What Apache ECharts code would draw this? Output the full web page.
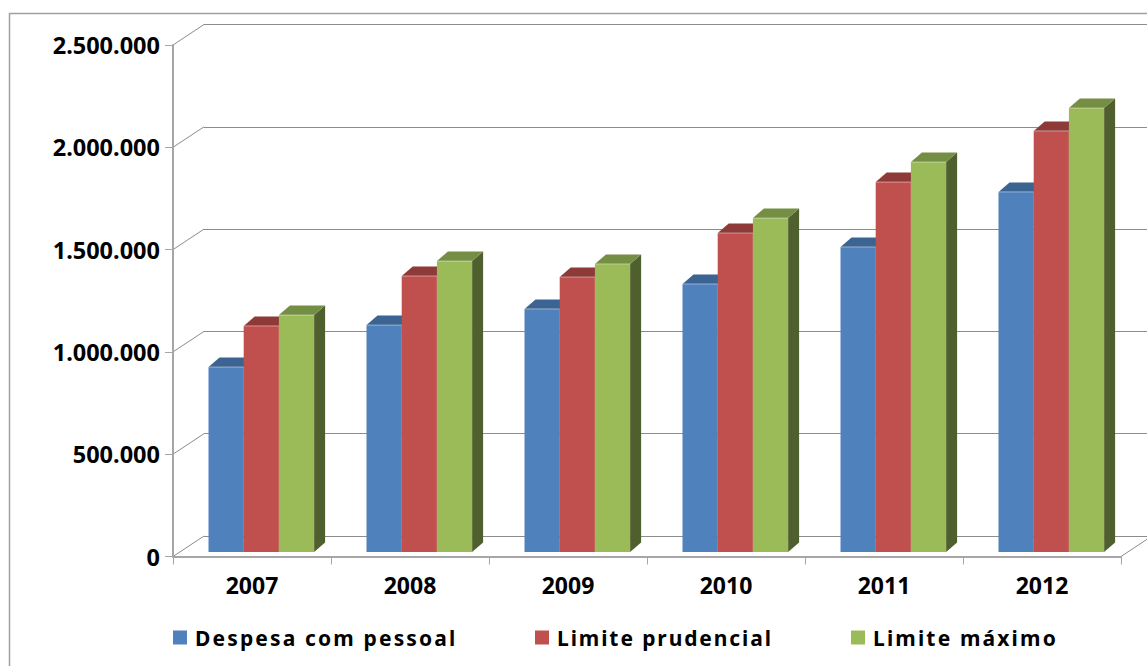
<!DOCTYPE html>
<html><head><meta charset="utf-8">
<style>html,body{margin:0;padding:0;background:#fff}#c{width:1147px;height:666px}</style>
<script src="https://cdn.jsdelivr.net/npm/echarts@6/dist/echarts.min.js"></script>
</head><body><div id="c"></div>
<script>
const categories = ['2007','2008','2009','2010','2011','2012'];
const despesa  = [904000,1109000,1188000,1310000,1491000,1760000];
const prudencial = [1105000,1349000,1344000,1559000,1808000,2058000];
const maximo   = [1158000,1422000,1408000,1632000,1906000,2170000];
const yTicks = [0,500000,1000000,1500000,2000000,2500000];
const seriesNames = ['Despesa com pessoal','Limite prudencial','Limite máximo'];

const FONT = '"Noto Sans", sans-serif';
const BACK = [31,-20.5], BAR_W = 35.2, BASE_Y = -4.5, DEPTH = [11,-9.5], OFF = -43.5;
const AXIS = '#a6a6a6', GRID = '#8c8c8c';
const LEGEND_SPACING = ['2.15px','1.9px','2.15px'];

function barRenderer(idx, front, top, side){
  return function(params, api){
    const x = api.coord([api.value(0), 0])[0] + OFF + idx*BAR_W;
    const y0 = api.coord([api.value(0), 0])[1] + BASE_Y;
    const yb = api.coord([api.value(0), api.value(1)])[1] + BASE_Y;
    const w = BAR_W;
    return {type:'group', children:[
      {type:'polygon', shape:{points:[[x+w,yb],[x+w+DEPTH[0],yb+DEPTH[1]],[x+w+DEPTH[0],y0+DEPTH[1]],[x+w,y0]]}, style:{fill:side}},
      {type:'polygon', shape:{points:[[x,yb],[x+DEPTH[0],yb+DEPTH[1]],[x+w+DEPTH[0],yb+DEPTH[1]],[x+w,yb]]}, style:{fill:top}},
      {type:'rect', shape:{x:x,y:yb,width:w,height:y0-yb}, style:{fill:front}},
      {type:'line', shape:{x1:x,y1:yb,x2:x+w,y2:yb}, style:{stroke:'rgba(255,255,255,0.45)',lineWidth:1}}
    ]};
  };
}
function barSeries(i, vals, front, top, side){
  return {type:'custom', name:seriesNames[i], xAxisIndex:0, yAxisIndex:0, clip:false, z:5+i,
    itemStyle:{color:front}, silent:true,
    data:categories.map((c,k)=>[k,vals[k]]),
    renderItem:barRenderer(i,front,top,side)};
}
function legendAt(name,left){
  return {data:[name], left:left, top:627, icon:'rect', itemWidth:14, itemHeight:14, itemGap:0,
    selectedMode:false, padding:0,
    textStyle:{fontFamily:FONT,fontWeight:'bold',fontSize:21,color:'#000',padding:[0,0,0,3]}};
}

const chart = echarts.init(document.getElementById('c'),null,{renderer:'svg'});
chart.setOption({
  animation:false,
  backgroundColor:'#fff',
  graphic:[{type:'rect',z:-10,shape:{x:9.5,y:13.5,width:1300,height:800},
    style:{fill:'none',stroke:'#a0a0a0',lineWidth:1.5},silent:true}],
  grid:[{left:173,top:45,width:948,height:511.5},
        {left:204,top:24.5,width:948,height:511.5}],
  legend:[legendAt(seriesNames[0],173),legendAt(seriesNames[1],535),legendAt(seriesNames[2],851)],
  xAxis:[
    {type:'category',gridIndex:0,data:categories,boundaryGap:true,z:3,
     axisLine:{show:true,lineStyle:{color:AXIS,width:2}},
     axisTick:{show:true,length:8,alignWithLabel:false,lineStyle:{color:AXIS,width:1}},
     axisLabel:{margin:17,fontFamily:FONT,fontWeight:'bold',fontSize:23,color:'#000'}},
    {type:'category',gridIndex:1,data:categories,show:false}
  ],
  yAxis:[
    {type:'value',gridIndex:0,min:0,max:2500000,interval:500000,z:3,
     splitLine:{show:false},
     axisLine:{show:true,lineStyle:{color:AXIS,width:2}},
     axisTick:{show:true,length:8,lineStyle:{color:AXIS,width:1}},
     axisLabel:{margin:13,padding:[3,0,0,0],fontFamily:FONT,fontWeight:'bold',fontSize:23.5,color:'#000',
       formatter:v=>String(v).replace(/\B(?=(\d{3})+(?!\d))/g,'.')}},
    {type:'value',gridIndex:1,min:0,max:2500000,interval:500000,
     axisLine:{show:false},axisTick:{show:false},axisLabel:{show:false},
     splitLine:{show:true,lineStyle:{color:GRID,width:1}}}
  ],
  series:[
    {type:'custom',xAxisIndex:0,yAxisIndex:0,clip:false,z:1,silent:true,
     data:yTicks.map(v=>[0,v]),
     renderItem:function(p,api){
       const c=api.coord([api.value(0),api.value(1)]), hb=api.size([1,0])[0]/2;
       return {type:'line',shape:{x1:c[0]-hb,y1:c[1],x2:c[0]-hb+BACK[0],y2:c[1]+BACK[1]},
         style:{stroke:GRID,lineWidth:1}};
     }},
    {type:'custom',xAxisIndex:0,yAxisIndex:0,clip:false,z:1,silent:true,
     data:[[categories.length-1,0]],
     renderItem:function(p,api){
       const c=api.coord([api.value(0),api.value(1)]), hb=api.size([1,0])[0]/2;
       return {type:'line',shape:{x1:c[0]+hb,y1:c[1],x2:c[0]+hb+BACK[0],y2:c[1]+BACK[1]},
         style:{stroke:GRID,lineWidth:1}};
     }},
    barSeries(0,despesa,'#4f81bd','#3b6492','#2f5078'),
    barSeries(1,prudencial,'#c0504d','#8e3a38','#773130'),
    barSeries(2,maximo,'#9bbb59','#748e43','#505f2e')
  ]
});
function spacing(){
  document.querySelectorAll('#c svg text').forEach(t=>{
    const i=seriesNames.indexOf(t.textContent.trim());
    if(i>=0) t.style.letterSpacing=LEGEND_SPACING[i];
  });
}
chart.on('finished',spacing);
spacing();
setTimeout(spacing,50);
</script></body></html>
